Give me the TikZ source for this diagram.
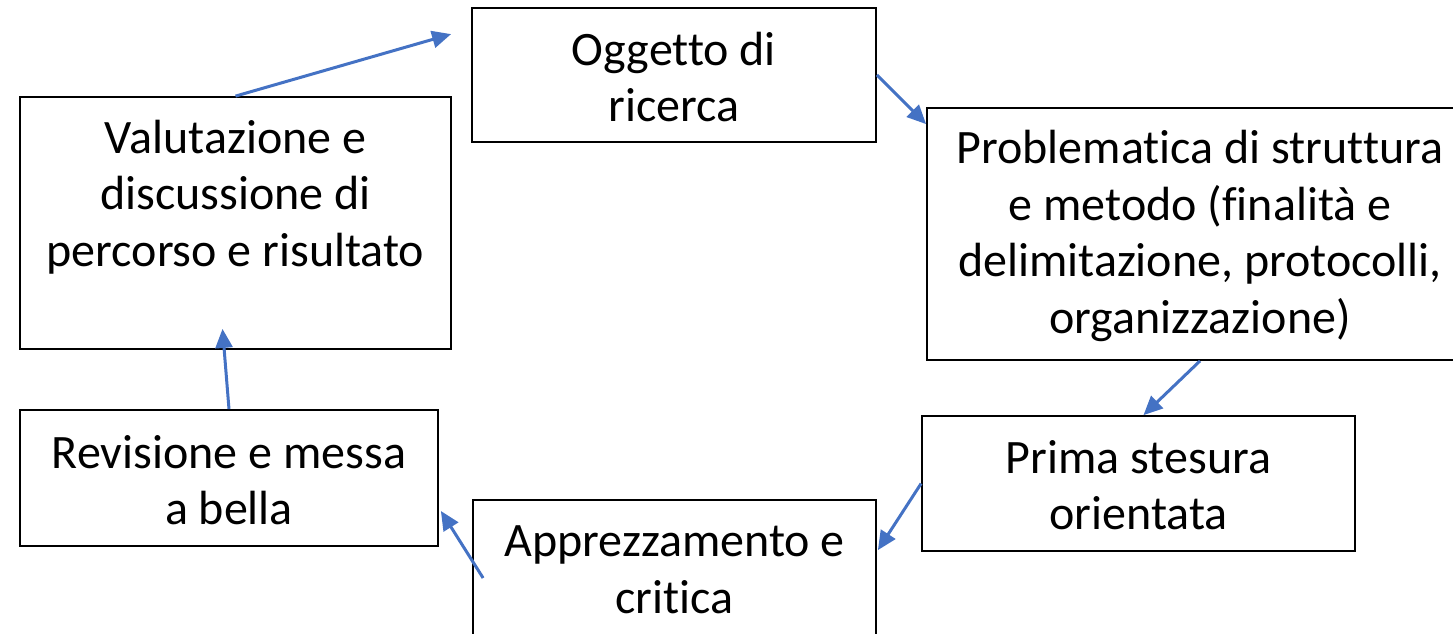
\documentclass[tikz,border=0pt]{standalone}
\usepackage{fontspec}
\setmainfont{Carlito}[Ligatures=NoCommon]
\usetikzlibrary{calc,arrows.meta}
\definecolor{arr}{RGB}{68,114,196}
\begin{document}
\begin{tikzpicture}[x=1pt,y=-1pt,
  box/.style={draw=black,line width=1.8pt,inner sep=0pt},
  txt/.style={align=center,font=\fontsize{48}{56.5}\selectfont,inner sep=0pt},
  conn/.style={draw=arr,line width=3pt,-{Triangle[length=19pt,width=17pt]}}]
\path[use as bounding box] (0,0) rectangle (1453,633);
\clip (0,0) rectangle (1453,633);
\node[box,minimum width=404,minimum height=134] (ogg) at (674,75) {};
\node[txt] at (674,77) {Oggetto di\\ricerca};
\node[box,minimum width=546,minimum height=252] (prob) at (1200,234) {};
\node[txt] at (1200,236) {Problematica di struttura\\e metodo (finalità e\\delimitazione, protocolli,\\organizzazione)};
\node[box,minimum width=431,minimum height=252] (val) at (235.5,223) {};
\node[txt] at (235.5,197) {Valutazione e\\discussione di\\percorso e risultato};
\node[box,minimum width=418,minimum height=136] (rev) at (229,478) {};
\node[txt] at (229,480) {Revisione e messa\\a bella};
\node[box,minimum width=433,minimum height=135] (prima) at (1138.5,483.5) {};
\node[txt] at (1138.5,485) {Prima stesura\\orientata};
\node[box,minimum width=403,minimum height=140] (appr) at (674.5,570) {};
\node[txt] at (674.5,570) {Apprezzamento e\\critica};
\draw[conn] (val.north) -- ($(ogg.north west)+(-20,27)$);
\draw[conn] (ogg.east) -- ($(prob.north west)+(0,17)$);
\draw[conn] (prob.south) -- ($(prima.north)+(5,0)$);
\draw[conn] (prima.west) -- ($(appr.north east)+(1,51)$);
\draw[conn] ($(appr.west)+(11,8)$) -- ($(rev.east)+(2,33)$);
\draw[conn] (rev.north) -- ($(val.south)+(-13,-21)$);
\end{tikzpicture}
\end{document}
